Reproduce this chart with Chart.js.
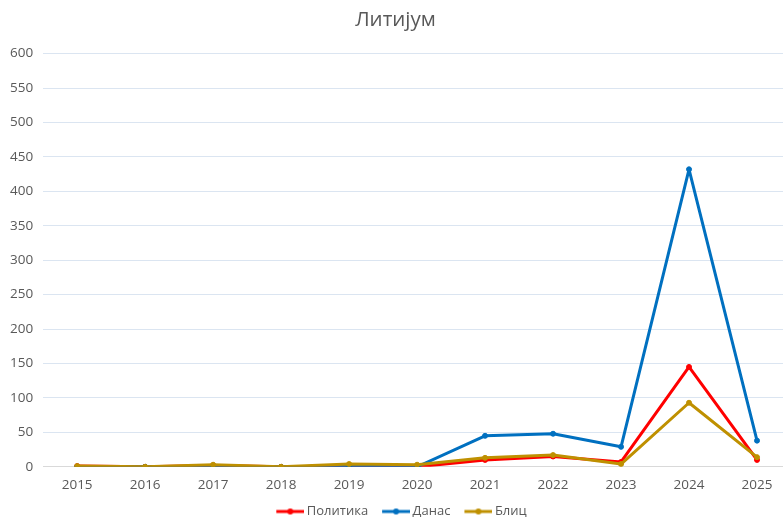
<!DOCTYPE html>
<html>
<head>
<meta charset="utf-8">
<script src="https://cdn.jsdelivr.net/npm/chart.js@4/dist/chart.umd.min.js"></script>
<style>
  html, body { margin: 0; padding: 0; overflow: hidden; background: #fff; }
  #wrap { width: 800px; height: 528px; }
</style>
</head>
<body>
<div id="wrap"><canvas id="c"></canvas></div>
<script>
// подаци
const godine = ['2015', '2016', '2017', '2018', '2019', '2020', '2021', '2022', '2023', '2024', '2025'];
const politika = [1, 0, 2, 0, 0, 0, 10, 15, 7, 145, 10];
const danas = [0, 0, 0, 0, 1, 0, 45, 48, 29, 432, 38];
const blic = [1, 0, 3, 0, 4, 3, 13, 17, 4, 93, 14];

// икона за легенду: линија са тачком, гурнута удесно (ближе тексту)
function legendIcon(color) {
    const cv = document.createElement('canvas');
    cv.width = 44; cv.height = 8;
    const g = cv.getContext('2d');
    g.strokeStyle = color;
    g.lineWidth = 3;
    g.beginPath();
    g.moveTo(16, 4); g.lineTo(44, 4);
    g.stroke();
    g.fillStyle = color;
    g.beginPath();
    g.arc(30, 4, 3, 0, Math.PI * 2);
    g.fill();
    return cv;
}

function serija(label, data, color, order) {
    return {
        label: label,
        data: data,
        borderColor: color,
        backgroundColor: color,
        borderWidth: 3,
        borderJoinStyle: 'round',
        borderCapStyle: 'round',
        pointRadius: 2.5,
        pointBorderWidth: 1,
        pointHoverRadius: 4,
        pointStyle: 'circle',
        tension: 0,
        order: order
    };
}

const ctx = document.getElementById('c').getContext('2d');
new Chart(ctx, {
    type: 'line',
    data: {
        labels: godine,
        datasets: [
            serija('Политика', politika, '#ff0000', 3),
            serija('Данас', danas, '#0070c0', 2),
            serija('Блиц', blic, '#bf9000', 1)
        ]
    },
    options: {
        responsive: true,
        maintainAspectRatio: false,
        animation: false,
        layout: { padding: { left: 0, right: 9, top: 0, bottom: 0 } },
        plugins: {
            title: {
                display: true,
                text: 'Литијум',
                color: '#595959',
                font: { family: 'Open Sans', size: 20.5, weight: 'normal' },
                padding: { top: 8, bottom: 21 }
            },
            legend: {
                position: 'bottom',
                labels: {
                    color: '#595959',
                    font: { family: 'Open Sans', size: 13 },
                    usePointStyle: true,
                    pointStyleWidth: 36,
                    boxHeight: 8,
                    padding: 2,
                    sort: (a, b) => a.datasetIndex - b.datasetIndex,
                    generateLabels: function(chart) {
                        const items = Chart.defaults.plugins.legend.labels.generateLabels(chart);
                        items.forEach(it => {
                            const ds = chart.data.datasets[it.datasetIndex];
                            it.pointStyle = legendIcon(ds.borderColor);
                        });
                        return items;
                    }
                }
            },
            tooltip: { enabled: true }
        },
        scales: {
            x: {
                offset: true,
                grid: { display: false, drawTicks: false },
                border: { color: '#d9d9d9' },
                ticks: {
                    color: '#595959',
                    font: { family: 'Open Sans', size: 13.5 },
                    padding: 10
                }
            },
            y: {
                min: 0,
                max: 600,
                ticks: {
                    stepSize: 50,
                    color: '#595959',
                    font: { family: 'Open Sans', size: 13.5 },
                    padding: 10
                },
                grid: {
                    color: (c) => c.tick && c.tick.value === 0 ? '#d9d9d9' : '#dbe5f1',
                    drawTicks: false
                },
                border: { display: false }
            }
        }
    }
});
</script>
</body>
</html>
